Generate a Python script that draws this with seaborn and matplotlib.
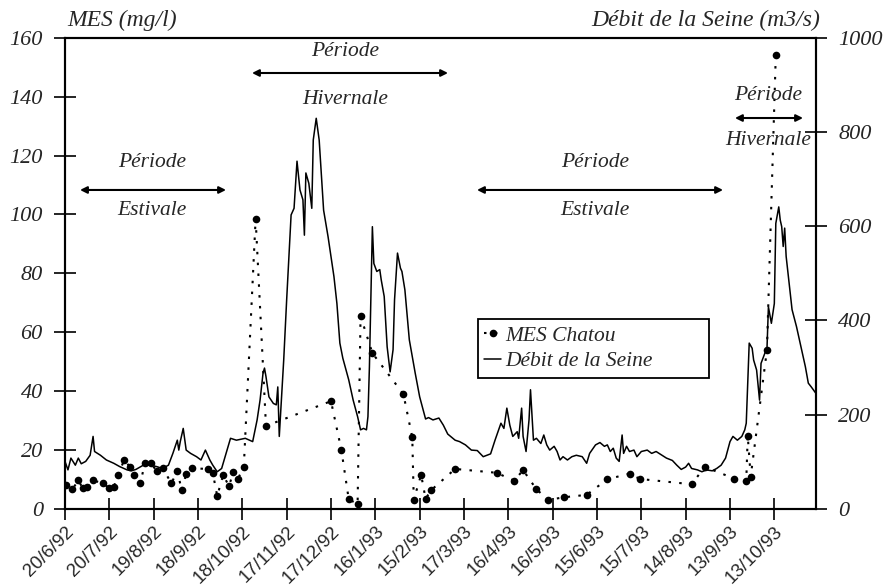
import pandas as pd
import matplotlib
matplotlib.use("Agg")
from matplotlib import pyplot as plt
from matplotlib.lines import Line2D
import seaborn as sns

# origine des jours : 20/6/92
debut = pd.Timestamp("1992-06-20")

# Débit de la Seine (m3/s)
jours_debit = [
    0, 2, 4, 7, 9, 11, 14, 17, 19, 20, 24, 28, 33, 37, 42, 45, 48, 53, 58, 62,
    66, 70, 73, 76, 77, 78, 80, 82, 85, 89, 92, 95, 98, 100, 103, 106, 109, 112,
    116, 122, 127, 130, 132, 134, 135, 136, 138, 141, 143, 144, 145, 148, 150,
    153, 155, 157, 159, 161, 162, 163, 164, 165, 167, 168, 170, 172, 175, 178,
    182, 184, 186, 188, 192, 195, 198, 200, 202, 204, 205, 206, 208, 209, 211,
    213, 214, 216, 218, 220, 222, 223, 225, 227, 228, 230, 233, 237, 240, 244,
    246, 249, 253, 256, 259, 264, 267, 271, 275, 279, 283, 288, 291, 295, 297,
    299, 301, 303, 306, 307, 309, 310, 312, 314, 315, 317, 319, 322, 324, 326,
    328, 331, 333, 335, 337, 340, 343, 346, 350, 353, 355, 359, 362, 365, 367,
    369, 371, 373, 375, 377, 378, 380, 382, 385, 387, 390, 394, 397, 400, 404,
    407, 411, 414, 417, 420, 422, 424, 428, 431, 434, 438, 441, 444, 447, 450,
    452, 455, 458, 460, 461, 463, 465, 466, 468, 470, 471, 474, 475, 476, 478,
    480, 481, 483, 484, 485, 486, 487, 488, 491, 492, 495, 498, 501, 503, 505,
    508,
]
debit = [
    101, 83, 108, 93, 108, 96, 101, 114, 154, 122, 114, 104, 97, 90, 83, 81, 84,
    93, 93, 90, 86, 93, 118, 146, 125, 143, 171, 125, 118, 111, 104, 125, 104,
    93, 79, 86, 118, 150, 146, 150, 143, 189, 231, 288, 299, 281, 238, 224, 221,
    259, 154, 316, 444, 624, 638, 738, 677, 656, 581, 713, 702, 691, 638, 783,
    829, 783, 634, 578, 493, 436, 352, 320, 274, 231, 196, 168, 171, 168, 196,
    302, 599, 521, 504, 508, 486, 451, 344, 291, 338, 444, 543, 511, 504, 465,
    359, 288, 238, 191, 194, 189, 193, 178, 159, 146, 143, 136, 125, 124, 111,
    117, 146, 182, 171, 214, 178, 154, 164, 150, 214, 154, 122, 189, 253, 146,
    150, 139, 157, 136, 125, 133, 122, 104, 111, 104, 111, 114, 111, 97, 118,
    136, 141, 133, 136, 122, 129, 108, 101, 157, 118, 133, 122, 125, 111, 122,
    125, 118, 122, 114, 108, 103, 93, 84, 89, 97, 86, 83, 79, 83, 81, 86, 93,
    108, 143, 154, 146, 154, 168, 182, 352, 341, 316, 295, 231, 309, 334, 338,
    429, 394, 436, 606, 641, 613, 599, 557, 596, 536, 451, 423, 387, 344, 302,
    267, 259, 246,
]

# MES Chatou (mg/l)
jours_mes = [
    1, 5, 9, 12, 15, 19, 26, 30, 33, 36, 40, 44, 47, 51, 54, 58, 62, 66, 72, 76,
    79, 82, 86, 97, 100, 103, 107, 111, 114, 117, 121, 129, 136, 180, 187, 192,
    198, 200, 208, 229, 235, 236, 241, 244, 248, 264, 292, 304, 310, 319, 327,
    338, 353, 367, 382, 389, 424, 433, 453, 461, 462, 464, 475, 481,
]
mes = [
    8.3, 6.7, 9.7, 7.1, 7.4, 9.7, 8.7, 7.0, 7.5, 11.6, 16.6, 14.3, 11.7, 8.7,
    15.5, 15.5, 13.0, 14.0, 8.7, 13.0, 6.3, 11.9, 13.8, 13.6, 12.3, 4.4, 11.5,
    7.8, 12.7, 10.2, 14.4, 98.5, 28.2, 36.6, 20.1, 3.3, 1.7, 65.5, 52.9, 39.0,
    24.3, 3.2, 11.6, 3.5, 6.5, 13.6, 12.3, 9.6, 13.2, 6.7, 3.1, 4.0, 4.8, 10.1,
    12.0, 10.2, 8.4, 14.3, 10.3, 9.4, 24.9, 11.0, 54.0, 154.2,
]

etiquettes_x = [
    "20/6/92", "20/7/92", "19/8/92", "18/9/92", "18/10/92", "17/11/92",
    "17/12/92", "16/1/93", "15/2/93", "17/3/93", "16/4/93", "16/5/93",
    "15/6/93", "15/7/93", "14/8/93", "13/9/93", "13/10/93",
]
graduations_mes = [0, 20, 40, 60, 80, 100, 120, 140, 160]
graduations_debit = [0, 200, 400, 600, 800, 1000]

df_debit = pd.DataFrame({
    "date": debut + pd.to_timedelta(jours_debit, unit="D"),
    "debit": debit,
})
df_mes = pd.DataFrame({
    "date": debut + pd.to_timedelta(jours_mes, unit="D"),
    "mes": mes,
})

sns.set_theme(style="ticks")
plt.rcParams["font.family"] = ["Liberation Serif", "DejaVu Serif"]
serif = dict(family="Liberation Serif", style="italic")

fig = plt.figure(figsize=(8.9, 5.86), dpi=100)
ax = fig.add_axes([65 / 890, 1 - 509 / 586, 751 / 890, 471.3 / 586])

sns.lineplot(data=df_mes, x="date", y="mes", ax=ax, color="black",
             marker="o", markersize=5.5, markeredgewidth=0,
             linestyle=(0, (1.2, 4)), linewidth=1.5, legend=False)
ax2 = ax.twinx()
sns.lineplot(data=df_debit, x="date", y="debit", ax=ax2, color="black",
             linewidth=1.1, legend=False)

ax.set_xlim(debut, debut + pd.Timedelta(days=508.2))
ax.set_ylim(0, 160)
ax2.set_ylim(0, 1000)

dates_x = [pd.to_datetime(t, format="%d/%m/%y") for t in etiquettes_x]
ax.set_xticks(dates_x)
ax.set_xticklabels(etiquettes_x, rotation=45, ha="right", va="top",
                   rotation_mode="anchor", family="Liberation Sans",
                   fontsize=13.5)
ax.set_yticks(graduations_mes)
ax.set_yticklabels([str(v) for v in graduations_mes], fontsize=16, **serif)
ax2.set_yticks(graduations_debit)
ax2.set_yticklabels([str(v) for v in graduations_debit], fontsize=16, **serif)

for a in (ax, ax2):
    a.set_xlabel("")
    a.set_ylabel("")
    a.tick_params(axis="both", direction="inout", length=16, width=1.2,
                  color="black", pad=8)
    for s in a.spines.values():
        s.set_linewidth(1.5)
        s.set_color("black")
        s.set_visible(True)
ax.tick_params(axis="x", pad=2)

fig.text(67 / 890, 1 - 20 / 586, "MES (mg/l)", ha="left", va="center",
         fontsize=17, **serif)
fig.text(820 / 890, 1 - 20 / 586, "Débit de la Seine (m3/s)", ha="right",
         va="center", fontsize=17, **serif)

# périodes
def periode(x0, x1, y_fleche, x_txt, y_haut, y_bas, bas):
    ax.annotate("", xy=(x0, y_fleche), xytext=(x1, y_fleche),
                xycoords="axes fraction",
                arrowprops=dict(arrowstyle="<|-|>", color="black", lw=1.5,
                                mutation_scale=10, shrinkA=0, shrinkB=0))
    ax.text(x_txt, y_haut, "Période", transform=ax.transAxes, ha="center",
            va="center", fontsize=15.5, **serif)
    ax.text(x_txt, y_bas, bas, transform=ax.transAxes, ha="center",
            va="center", fontsize=15.5, **serif)

periode(0.020, 0.2144, 0.6769, 0.1158, 0.7342, 0.6344, "Estivale")
periode(0.249, 0.510, 0.9251, 0.3728, 0.9697, 0.8699, "Hivernale")
periode(0.5486, 0.8762, 0.6769, 0.7057, 0.7342, 0.6344, "Estivale")
periode(0.8921, 0.9827, 0.8296, 0.9361, 0.8784, 0.7829, "Hivernale")

poignees = [
    Line2D([], [], color="black", marker="o", markersize=5.5,
           markeredgewidth=0, linestyle=(0, (1.2, 4)), linewidth=1.5),
    Line2D([], [], color="black", linewidth=1.1),
]
leg = ax2.legend(poignees, ["MES Chatou", "Débit de la Seine"],
                 loc="upper left", bbox_to_anchor=(0.5495, 0.2774, 0.3085, 0.1252),
                 mode="expand", borderaxespad=0, handlelength=0.8,
                 handletextpad=0.2, fancybox=False, framealpha=1,
                 edgecolor="black",
                 prop=dict(family="Liberation Serif", style="italic", size=15.5),
                 labelspacing=0.25, borderpad=0.3)
leg.get_frame().set_linewidth(1.3)

fig.savefig("out.png", dpi=100)
